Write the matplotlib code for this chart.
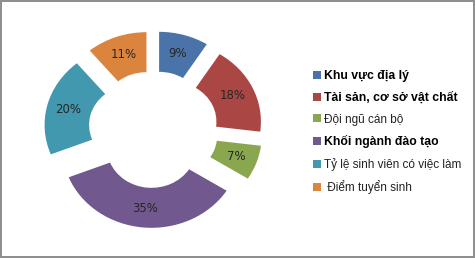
import matplotlib.pyplot as plt
from matplotlib.patches import Rectangle

# Data
categories = ['Khu vực địa lý', 'Tài sản, cơ sở vật chất', 'Đội ngũ cán bộ',
              'Khối ngành đào tạo', 'Tỷ lệ sinh viên có việc làm', ' Điểm tuyển sinh']
values = [9, 18, 7, 35, 20, 11]
colors = ['#4A73A9', '#AA4744', '#8AA64F', '#71598F', '#4198AF', '#DB843E']
bold_items = [0, 1, 3]

W, H = 475, 258
fig = plt.figure(figsize=(W / 100, H / 100), dpi=100)
fig.patch.set_facecolor('white')

# pie axes: centre ~ (153, 129) px, radius x ~89 px, radius y ~80 px
cx, cy, rx, ry = 153.4, 129.5, 89.0, 80.0
lim = 1.25
ax = fig.add_axes([(cx - lim * rx) / W, (H - cy - lim * ry) / H,
                   2 * lim * rx / W, 2 * lim * ry / H])

wedges, texts, autotexts = ax.pie(
    values, colors=colors, startangle=90, counterclock=False,
    explode=[0.23] * len(values), radius=1.0,
    wedgeprops=dict(width=0.5, linewidth=0),
    autopct=lambda p: f'{p:.0f}%', pctdistance=0.76,
    textprops=dict(fontsize=8.5, color='#262626'))
ax.set_aspect('auto')
ax.set_xlim(-lim, lim)
ax.set_ylim(-lim, lim)

leg = fig.legend(wedges, categories, loc='upper left',
                 bbox_to_anchor=(313 / W, 1 - 70 / H), frameon=False,
                 prop=dict(family='Liberation Sans', size=8.5),
                 handlelength=0.65, handleheight=0.65,
                 handletextpad=0.25, labelspacing=0.82, borderpad=0,
                 borderaxespad=0)
for i, t in enumerate(leg.get_texts()):
    if i in bold_items:
        t.set_fontweight('bold')
        t.set_fontsize(8.8)
        t.set_color('black')
    else:
        t.set_color('#222222')

# chart border
fig.patches.append(Rectangle((0.5 / W, 1.0 / H), (W - 2.0) / W, (H - 1.8) / H,
                             transform=fig.transFigure, fill=False,
                             edgecolor='#8C8C8C', linewidth=1.4))

fig.savefig('out.png', dpi=100)
